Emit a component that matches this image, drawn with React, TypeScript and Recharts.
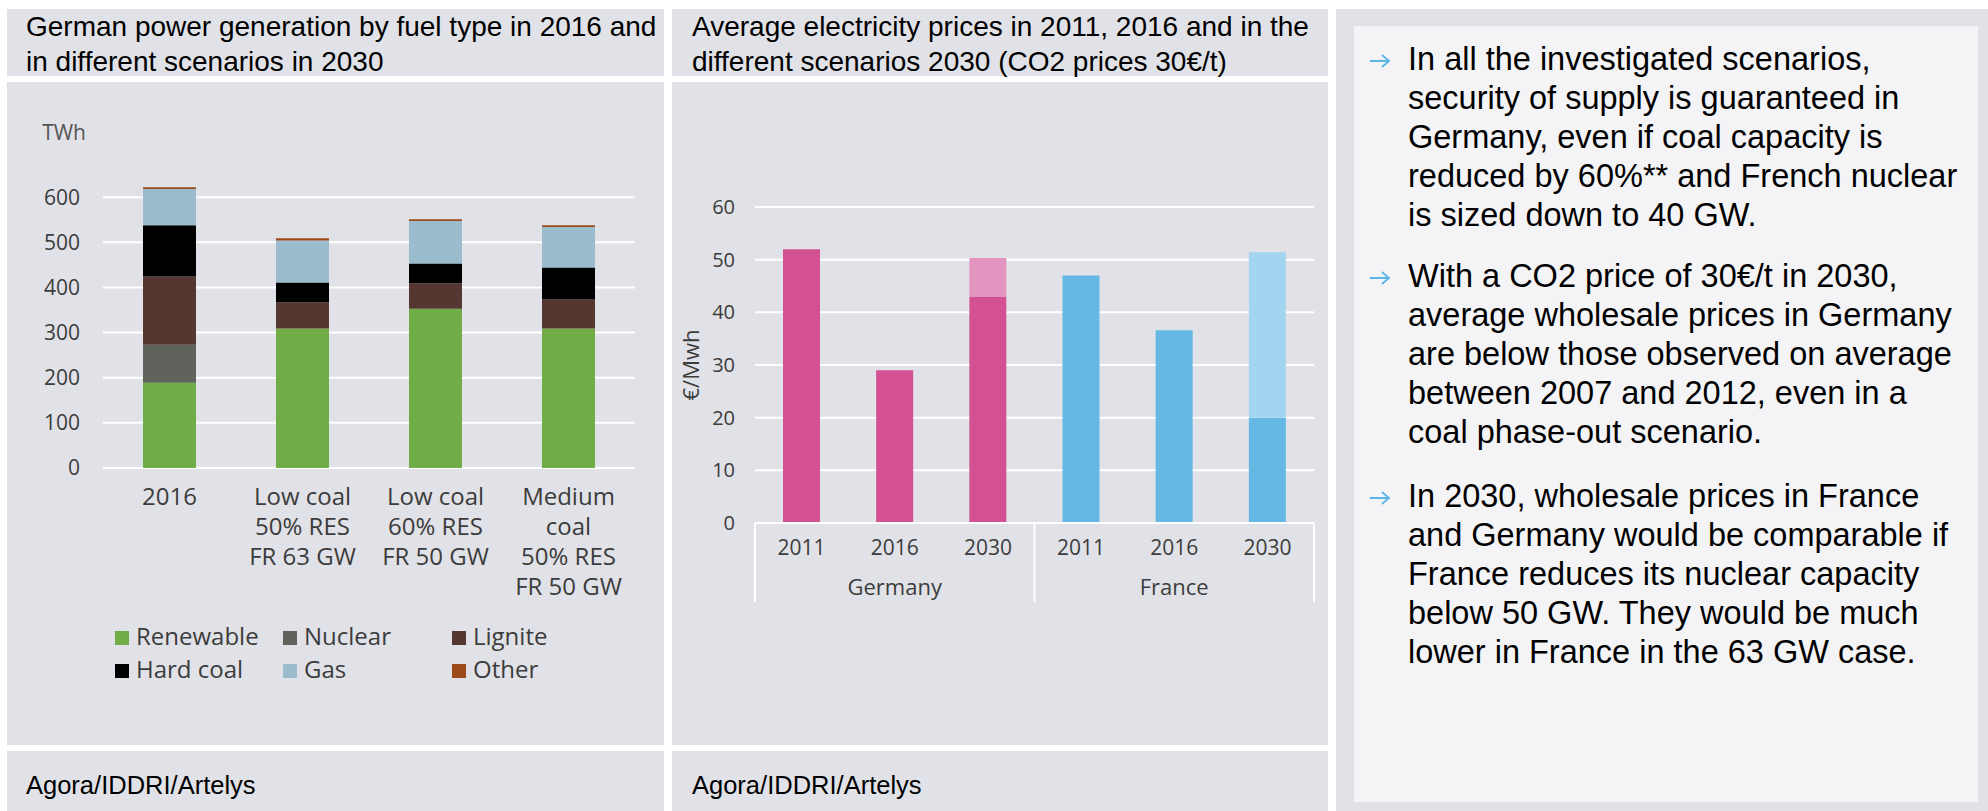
import React from "react";
import { BarChart, Bar, XAxis, YAxis, CartesianGrid, Legend, Cell } from "recharts";

// left chart: German generation by fuel (TWh)
const scenarios = [
  "2016",
  "Low coal\n50% RES\nFR 63 GW",
  "Low coal\n60% RES\nFR 50 GW",
  "Medium\ncoal\n50% RES\nFR 50 GW",
];
const fuelNames = ["Renewable", "Nuclear", "Lignite", "Hard coal", "Gas", "Other"];
const fuelColors = ["#70ad47", "#60635c", "#553630", "#000000", "#9bbccc", "#9c4a1a"];
const renewable = [189, 309, 353, 309];
const nuclear = [84, 0, 0, 0];
const lignite = [151, 58, 56, 64];
const hardCoal = [114, 44, 44, 71];
const gas = [80, 93, 94, 90];
const other = [4, 5, 4, 4];
const genTicks = [0, 100, 200, 300, 400, 500, 600];
const genMax = 700;

// middle chart: average prices (EUR/MWh)
const priceYears = ["2011", "2016", "2030"];
const priceCountries = ["Germany", "France"];
const germanyPrice = [52, 29, 43];
const germanyExtra = [0, 0, 7.3];
const francePrice = [47, 36.6, 20];
const franceExtra = [0, 0, 31.4];
const countryColors = ["#d35192", "#64b8e3"];
const countryLight = ["#e495bf", "#a3d4f0"];
const priceTicks = [0, 10, 20, 30, 40, 50, 60];

const notes = [
  [
    "In all the investigated scenarios,",
    "security of supply is guaranteed in",
    "Germany, even if coal capacity is",
    "reduced by 60%** and French nuclear",
    "is sized down to 40 GW.",
  ],
  [
    "With a CO2 price of 30\u20ac/t in 2030,",
    "average wholesale prices in Germany",
    "are below those observed on average",
    "between 2007 and 2012, even in a",
    "coal phase-out scenario.",
  ],
  [
    "In 2030, wholesale prices in France",
    "and Germany would be comparable if",
    "France reduces its nuclear capacity",
    "below 50 GW. They would be much",
    "lower in France in the 63 GW case.",
  ],
];

const genSeries = [renewable, nuclear, lignite, hardCoal, gas, other];
const genData = scenarios.map((s, i) => {
  const row: any = { scenario: s };
  fuelNames.forEach((f, k) => (row[f] = genSeries[k][i]));
  return row;
});

const priceData = priceCountries.flatMap((c, ci) =>
  priceYears.map((y, yi) => ({
    id: c + "-" + y,
    year: y,
    country: c,
    ci,
    base: ci === 0 ? germanyPrice[yi] : francePrice[yi],
    extra: ci === 0 ? germanyExtra[yi] : franceExtra[yi],
  }))
);

const PANEL = "#e1e2e7";
const HEAD_FONT = "'Liberation Sans', Arial, sans-serif";
const AXIS_FONT = "'Open Sans', sans-serif";
const AXIS_COLOR = "#3c3c3c";

// only draw grid lines at the labelled ticks (the domain top has no line)
const genGridLines = (props: any) => {
  const scale = props?.yAxis?.scale;
  if (typeof scale === "function") return genTicks.map((t) => scale(t));
  const { top, height } = props.offset;
  return genTicks.map((t) => top + height * (1 - t / genMax));
};

const GenTick = (props: any) => {
  const { x, y, payload } = props;
  const lines = String(payload.value).split("\n");
  return (
    <text x={x} y={y} textAnchor="middle" fill={AXIS_COLOR} fontSize={24} fontFamily={AXIS_FONT}>
      {lines.map((l, i) => (
        <tspan key={i} x={x} dy={i === 0 ? 37 : 30}>
          {l}
        </tspan>
      ))}
    </text>
  );
};

const FuelLegend = () => (
  <div style={{ display: "grid", gridTemplateColumns: "168px 169px 150px" }}>
    {fuelNames.map((f, i) => (
      <div
        key={f}
        style={{
          display: "flex",
          alignItems: "center",
          height: 33,
          fontSize: 24,
          fontFamily: AXIS_FONT,
          color: AXIS_COLOR,
          whiteSpace: "nowrap",
        }}
      >
        <span style={{ width: 14, height: 14, background: fuelColors[i], marginRight: 7, marginTop: 5 }} />
        {f}
      </div>
    ))}
  </div>
);

const PriceTick = (props: any) => {
  const { x, y, index, payload, width } = props;
  const half = typeof payload?.offset === "number" && payload.offset > 0 ? payload.offset : width / priceData.length / 2;
  const d = priceData[index];
  if (!d) return null;
  const lines: any[] = [];
  if (index % 3 === 0) lines.push(<line key="l" x1={x - half} x2={x - half} y1={y} y2={y + 79} stroke="#fff" strokeWidth={2} />);
  if (index === priceData.length - 1)
    lines.push(<line key="r" x1={x + half} x2={x + half} y1={y} y2={y + 79} stroke="#fff" strokeWidth={2} />);
  return (
    <g>
      {lines}
      <text x={x} y={y + 32} textAnchor="middle" fill={AXIS_COLOR} fontSize={21} fontFamily={AXIS_FONT}>
        {d.year}
      </text>
      {index % 3 === 1 && (
        <text x={x} y={y + 72} textAnchor="middle" fill={AXIS_COLOR} fontSize={22} fontFamily={AXIS_FONT}>
          {d.country}
        </text>
      )}
    </g>
  );
};

const Arrow = () => (
  <svg width={22} height={16} viewBox="0 0 22 16" style={{ display: "block" }}>
    <path d="M1 8 H20 M13 2 L20 8 L13 14" fill="none" stroke="#5bb6e6" strokeWidth={1.8} />
  </svg>
);

const box = (left: number, top: number, width: number, height: number, bg = PANEL): React.CSSProperties => ({
  position: "absolute",
  left,
  top,
  width,
  height,
  background: bg,
});

const titleStyle: React.CSSProperties = {
  fontFamily: HEAD_FONT,
  fontSize: 28,
  lineHeight: "35px",
  color: "#000",
  whiteSpace: "nowrap",
};

export default function App() {
  return (
    <div style={{ position: "absolute", left: 0, top: 0, width: 1988, height: 811, background: "#fff", overflow: "hidden" }}>
      {/* left panel */}
      <div style={box(7, 9, 657, 67)}>
        <div style={{ ...titleStyle, position: "absolute", left: 19, top: 0 }}>
          German power generation by fuel type in 2016 and
          <br />
          in different scenarios in 2030
        </div>
      </div>
      <div style={box(7, 82, 657, 663)}>
        <BarChart width={657} height={663} data={genData} margin={{ top: 70, right: 29, bottom: 137, left: 0 }} barSize={53}>
          <CartesianGrid vertical={false} stroke="#ffffff" strokeWidth={2} horizontalCoordinatesGenerator={genGridLines} />
          <XAxis dataKey="scenario" height={140} axisLine={false} tickLine={false} tickSize={0} tickMargin={0} interval={0} tick={<GenTick />} />
          <YAxis
            width={96}
            domain={[0, genMax]}
            ticks={genTicks}
            axisLine={false}
            tickLine={false}
            tickSize={0}
            tickMargin={23}
            tick={{ fill: AXIS_COLOR, fontSize: 21, fontFamily: AXIS_FONT }}
            label={{
              content: (p: any) => (
                <text x={p.viewBox.x + p.viewBox.width - 17} y={p.viewBox.y - 12} textAnchor="end" fill="#555" fontSize={21} fontFamily={AXIS_FONT}>
                  TWh
                </text>
              ),
            }}
          />
          <Legend content={<FuelLegend />} verticalAlign="middle" align="center" wrapperStyle={{ left: 108, top: 537, width: 520 }} />
          {fuelNames.map((f, i) => (
            <Bar key={f} dataKey={f} stackId="gen" fill={fuelColors[i]} isAnimationActive={false} />
          ))}
        </BarChart>
      </div>
      <div style={box(7, 751, 657, 70)}>
        <div style={{ ...titleStyle, fontSize: 25.5, position: "absolute", left: 19, top: 17 }}>Agora/IDDRI/Artelys</div>
      </div>

      {/* middle panel */}
      <div style={box(672, 9, 656, 67)}>
        <div style={{ ...titleStyle, position: "absolute", left: 20, top: 0 }}>
          Average electricity prices in 2011, 2016 and in the
          <br />
          different scenarios 2030 (CO2 prices 30€/t)
        </div>
      </div>
      <div style={box(672, 82, 656, 663)}>
        <BarChart width={656} height={663} data={priceData} margin={{ top: 125, right: 14, bottom: 122, left: 0 }} barSize={37}>
          <CartesianGrid vertical={false} stroke="#ffffff" strokeWidth={2} />
          <XAxis
            dataKey="id"
            height={100}
            axisLine={{ stroke: "#ffffff", strokeWidth: 2 }}
            tickLine={false}
            tickSize={0}
            tickMargin={0}
            interval={0}
            tick={<PriceTick />}
          />
          <YAxis
            width={83}
            domain={[0, 60]}
            ticks={priceTicks}
            axisLine={false}
            tickLine={false}
            tickSize={0}
            tickMargin={20}
            tick={{ fill: AXIS_COLOR, fontSize: 20, fontFamily: AXIS_FONT }}
            label={{
              content: (p: any) => {
                const cx = p.viewBox.x + 18;
                const cy = p.viewBox.y + p.viewBox.height / 2;
                return (
                  <text x={cx} y={cy} transform={`rotate(-90 ${cx} ${cy})`} textAnchor="middle" dominantBaseline="central" fill={AXIS_COLOR} fontSize={22} fontFamily={AXIS_FONT}>
                    €/Mwh
                  </text>
                );
              },
            }}
          />
          <Bar dataKey="base" stackId="p" isAnimationActive={false}>
            {priceData.map((d) => (
              <Cell key={d.id} fill={countryColors[d.ci]} />
            ))}
          </Bar>
          <Bar dataKey="extra" stackId="p" isAnimationActive={false}>
            {priceData.map((d) => (
              <Cell key={d.id} fill={countryLight[d.ci]} />
            ))}
          </Bar>
        </BarChart>
      </div>
      <div style={box(672, 751, 656, 70)}>
        <div style={{ ...titleStyle, fontSize: 25.5, position: "absolute", left: 20, top: 17 }}>Agora/IDDRI/Artelys</div>
      </div>

      {/* right panel */}
      <div style={box(1336, 9, 652, 802)}>
        <div style={box(18, 17, 624, 776, "#f4f4f7")}>
          {notes.map((para, pi) => (
            <div key={pi} style={{ position: "absolute", left: 0, top: [14, 231, 451][pi], width: 624 }}>
              <div style={{ position: "absolute", left: 15, top: 13 }}>
                <Arrow />
              </div>
              <div style={{ position: "absolute", left: 54, top: 0, fontFamily: HEAD_FONT, fontSize: 32.5, lineHeight: "39px", color: "#000", whiteSpace: "nowrap" }}>
                {para.map((l, li) => (
                  <div key={li}>{l}</div>
                ))}
              </div>
            </div>
          ))}
        </div>
      </div>
    </div>
  );
}
